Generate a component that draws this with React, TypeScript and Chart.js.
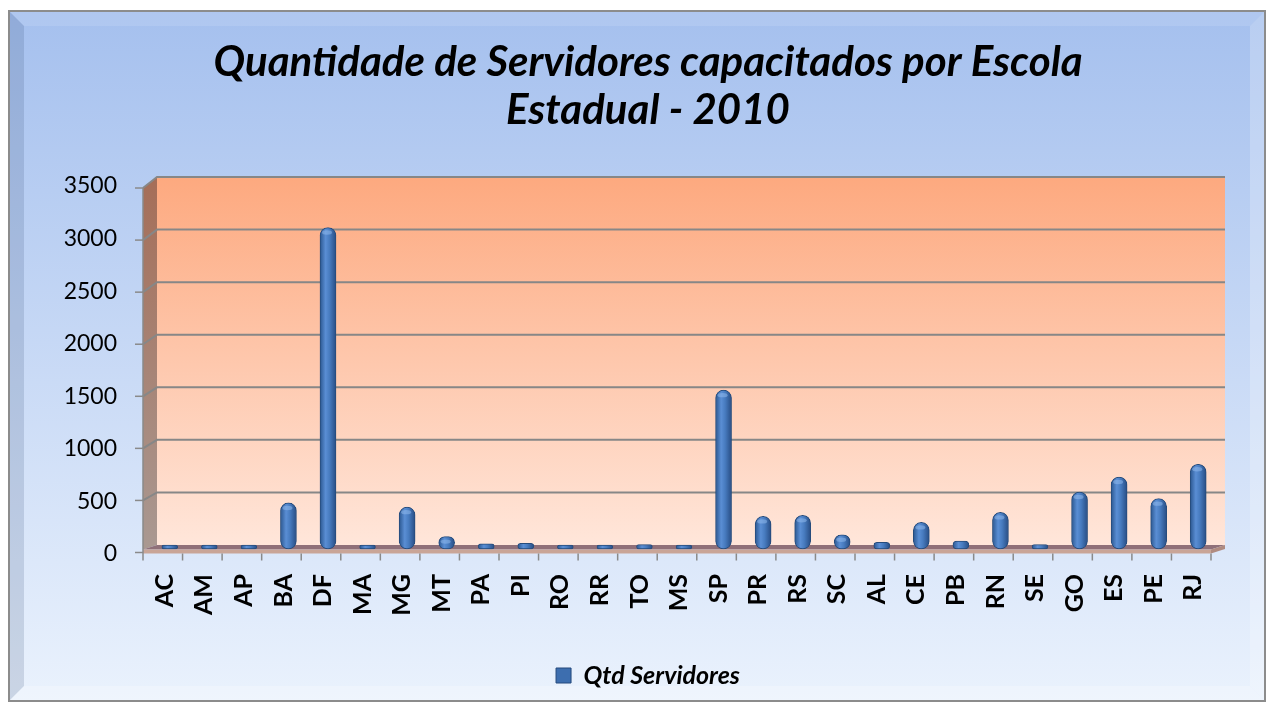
import React, { useEffect, useRef } from 'react';
import { Chart, registerables } from 'chart.js';

Chart.register(...registerables);

const categories = ['AC', 'AM', 'AP', 'BA', 'DF', 'MA', 'MG', 'MT', 'PA', 'PI', 'RO', 'RR', 'TO', 'MS', 'SP', 'PR', 'RS', 'SC', 'AL', 'CE', 'PB', 'RN', 'SE', 'GO', 'ES', 'PE', 'RJ'];
const qtdServidores = [0, 0, 0, 400, 3020, 0, 360, 80, 10, 15, 0, 0, 5, 0, 1473, 272, 282, 97, 25, 215, 38, 310, 5, 504, 647, 441, 768];
const yTicks = [0, 500, 1000, 1500, 2000, 2500, 3000, 3500];
const titleLines = ['Quantidade de Servidores capacitados por Escola', 'Estadual - 2010'];
const seriesName = 'Qtd Servidores';

const W = 1271;
const H = 708;
const DX = 7; // half depth (x)

function poly(ctx: CanvasRenderingContext2D, pts: number[][], fill: any) {
  ctx.beginPath();
  ctx.moveTo(pts[0][0], pts[0][1]);
  for (let i = 1; i < pts.length; i++) ctx.lineTo(pts[i][0], pts[i][1]);
  ctx.closePath();
  ctx.fillStyle = fill;
  ctx.fill();
}

// vertical shift of the front edge relative to the back wall, per value
function frontOff(v: number) {
  return 7.5 + 3.5 * (v / 3500);
}

const decor = {
  id: 'decor',
  beforeDraw(chart: any) {
    const { ctx, chartArea: ca } = chart;
    const ys = chart.scales.y;
    ctx.save();
    ctx.fillStyle = '#ffffff';
    ctx.fillRect(0, 0, W, H);

    // outer frame
    const fx0 = 9, fy0 = 11, fx1 = 1265, fy1 = 701, b = 15;
    const g = ctx.createLinearGradient(0, fy0, 0, fy1);
    g.addColorStop(0, '#a5c0ee');
    g.addColorStop(1, '#eaf2fd');
    ctx.fillStyle = g;
    ctx.fillRect(fx0, fy0, fx1 - fx0, fy1 - fy0);
    poly(ctx, [[fx0, fy0], [fx1, fy0], [fx1 - b, fy0 + b], [fx0 + b, fy0 + b]], 'rgba(255,255,255,0.12)');
    poly(ctx, [[fx0, fy0], [fx0 + b, fy0 + b], [fx0 + b, fy1 - b], [fx0, fy1]], 'rgba(50,70,110,0.17)');
    poly(ctx, [[fx1, fy0], [fx1, fy1], [fx1 - b, fy1 - b], [fx1 - b, fy0 + b]], 'rgba(255,255,255,0.22)');
    poly(ctx, [[fx0, fy1], [fx1, fy1], [fx1 - b, fy1 - b], [fx0 + b, fy1 - b]], 'rgba(255,255,255,0.25)');
    ctx.strokeStyle = '#8c8c8c';
    ctx.lineWidth = 2;
    ctx.strokeRect(fx0, fy0, fx1 - fx0, fy1 - fy0);

    const vTop = yTicks[yTicks.length - 1];
    const top = ys.getPixelForValue(vTop);
    const bot = ys.getPixelForValue(0);
    const bl = ca.left + DX, br = ca.right + DX;
    const fl = ca.left - DX, fr = ca.right - DX;
    const fTop = top + frontOff(vTop);
    const fBot = bot + 4.5;

    // back wall
    const gw = ctx.createLinearGradient(0, top, 0, bot);
    gw.addColorStop(0, '#fda97f');
    gw.addColorStop(1, '#ffe6da');
    ctx.fillStyle = gw;
    ctx.fillRect(bl, top, br - bl, bot - top);

    // side wall
    const gs = ctx.createLinearGradient(0, top, 0, bot);
    gs.addColorStop(0, '#a56e58');
    gs.addColorStop(1, '#a99891');
    poly(ctx, [[fl, fTop], [bl, top], [bl, bot], [fl, fBot]], gs);

    // gridlines
    ctx.strokeStyle = '#878787';
    ctx.lineWidth = 2;
    for (const v of yTicks) {
      if (v === 0) continue;
      const y = ys.getPixelForValue(v);
      ctx.beginPath();
      ctx.moveTo(fl, y + frontOff(v));
      ctx.lineTo(bl, y);
      ctx.lineTo(br, y);
      ctx.stroke();
    }

    // floor
    poly(ctx, [[fl, fBot], [bl, bot], [br, bot], [fr, fBot]], '#8f7079');
    poly(ctx, [[fl, fBot], [fr, fBot], [fr, fBot + 4], [fl, fBot + 4]], '#c9a597');
    poly(ctx, [[fr, fBot], [br, bot], [br, bot + 4], [fr, fBot + 4]], '#b08b80');

    // axis lines & ticks
    ctx.strokeStyle = '#8a8a8a';
    ctx.lineWidth = 1.5;
    ctx.beginPath();
    ctx.moveTo(fl, fTop);
    ctx.lineTo(fl, fBot + 11);
    ctx.stroke();
    for (const v of yTicks) {
      const y = ys.getPixelForValue(v) + frontOff(v);
      ctx.beginPath();
      ctx.moveTo(fl - 8, y);
      ctx.lineTo(fl, y);
      ctx.stroke();
    }
    const n = categories.length;
    const step = (fr - fl) / n;
    for (let i = 1; i <= n; i++) {
      const x = fl + i * step;
      ctx.beginPath();
      ctx.moveTo(x, fBot + 4);
      ctx.lineTo(x, fBot + 11);
      ctx.stroke();
    }
    ctx.restore();
  },
  afterDatasetsDraw(chart: any) {
    const { ctx } = chart;
    const meta = chart.getDatasetMeta(0);
    ctx.save();
    meta.data.forEach((el: any, i: number) => {
      if (qtdServidores[i] < 60) return;
      ctx.beginPath();
      ctx.ellipse(el.x - 1, el.y + 5, 5, 2.2, 0, 0, Math.PI * 2);
      ctx.fillStyle = 'rgba(150,190,240,0.5)';
      ctx.fill();
    });
    ctx.restore();
  },
};

export default function App() {
  const ref = useRef<HTMLCanvasElement | null>(null);
  useEffect(() => {
    document.body.style.margin = '0';
    const canvas = ref.current!;
    const chart = new Chart(canvas, {
      type: 'bar',
      data: {
        labels: categories,
        datasets: [
          {
            label: seriesName,
            data: qtdServidores,
            base: -38,
            clip: false,
            backgroundColor: (c: any) => {
              const ch = c.chart;
              const xs = ch.scales && ch.scales.x;
              if (!xs || c.type !== 'data') return '#4a7ebb';
              const x = xs.getPixelForValue(c.dataIndex);
              const gr = ch.ctx.createLinearGradient(x - 8, 0, x + 8, 0);
              gr.addColorStop(0, '#2b5790');
              gr.addColorStop(0.35, '#5a8ed4');
              gr.addColorStop(0.6, '#477bbf');
              gr.addColorStop(1, '#284d84');
              return gr;
            },
            borderColor: '#264c7c',
            borderWidth: 1,
            borderRadius: 8,
            borderSkipped: false,
            barThickness: 16,
          },
        ],
      },
      options: {
        responsive: false,
        animation: false,
        devicePixelRatio: 1,
        layout: { padding: { top: 0, left: 25, right: 0, bottom: 10 } },
        plugins: {
          title: {
            display: true,
            text: titleLines,
            color: '#000',
            font: { family: 'Lato', size: 42, weight: 'bold', style: 'italic', lineHeight: 1.143 },
            padding: { top: 38, bottom: 43 },
          },
          legend: {
            display: true,
            position: 'bottom',
            labels: {
              color: '#000',
              font: { family: 'Lato', size: 25, weight: 'bold', style: 'italic' },
              boxWidth: 15,
              boxHeight: 15,
              padding: 10,
              generateLabels: () => [
                { text: seriesName, fillStyle: '#3d6eaf', strokeStyle: '#24497c', lineWidth: 1, hidden: false, datasetIndex: 0 },
              ],
            },
          },
          tooltip: { enabled: false },
        },
        scales: {
          x: {
            grid: { display: false, drawTicks: false },
            border: { display: false },
            ticks: {
              color: '#000',
              font: { family: 'Lato', size: 25, weight: 'bold' },
              maxRotation: 90,
              minRotation: 90,
              padding: 29,
              labelOffset: -5,
              autoSkip: false,
            },
            afterFit: (s: any) => { s.height = 108; },
          },
          y: {
            min: 0,
            max: 3500,
            grid: { display: false, drawTicks: false },
            border: { display: false },
            afterBuildTicks: (s: any) => { s.ticks = yTicks.map((v) => ({ value: v })); },
            ticks: {
              color: '#000',
              font: { family: 'Lato', size: 23 },
              padding: 33,
              labelOffset: 9,
              callback: (v: any) => String(v),
            },
            afterFit: (s: any) => { s.width = 125; },
          },
          yRight: {
            type: 'linear',
            position: 'right',
            display: true,
            grid: { display: false, drawTicks: false },
            border: { display: false },
            ticks: { display: false },
            afterFit: (s: any) => { s.width = 53; },
          },
        },
      },
      plugins: [decor],
    } as any);
    return () => chart.destroy();
  }, []);
  return <canvas ref={ref} width={W} height={H} style={{ display: 'block' }} />;
}
